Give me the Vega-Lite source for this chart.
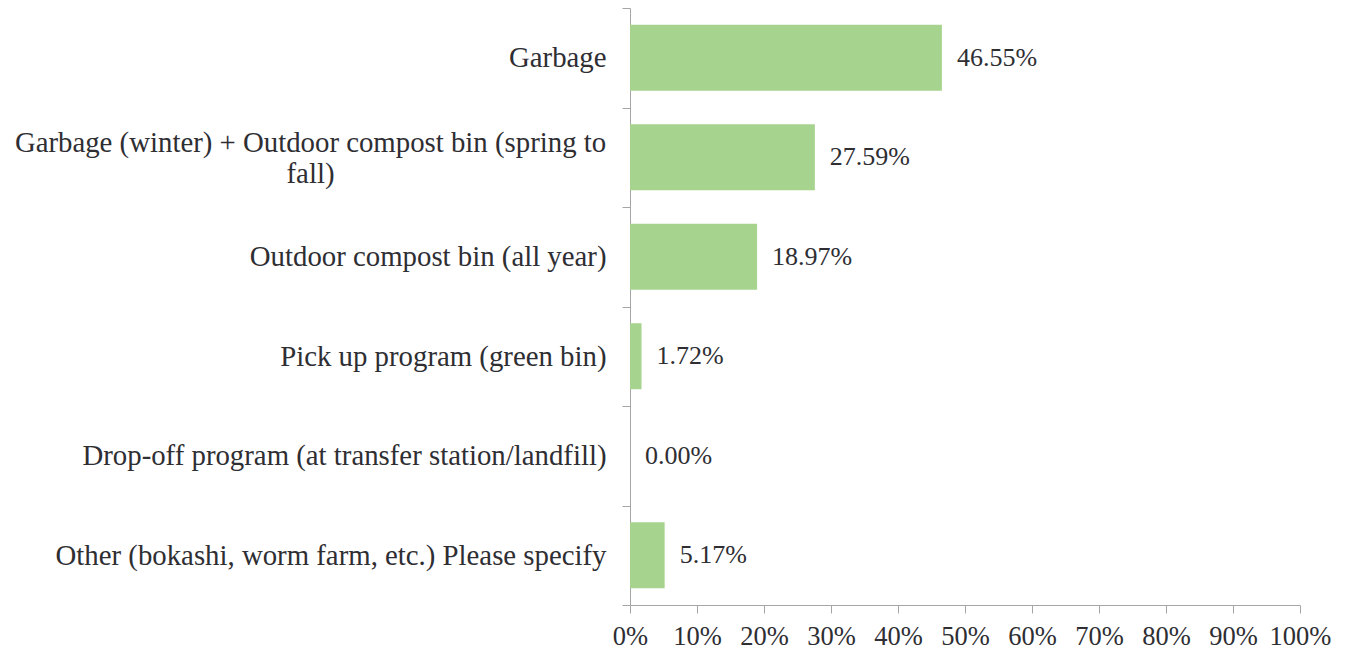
{
  "$schema": "https://vega.github.io/schema/vega-lite/v6.json",
  "width": 670,
  "height": 597,
  "autosize": {"type": "none"},
  "padding": {"left": 630, "top": 8, "right": 48, "bottom": 44},
  "background": "white",
  "config": {"view": {"stroke": null}, "font": "Times New Roman, Liberation Serif, DejaVu Serif, serif"},
  "data": {
    "values": [
      {"category": "Garbage", "value": 0.4655},
      {"category": ["Garbage (winter) + Outdoor compost bin (spring to", "fall)"], "value": 0.2759},
      {"category": "Outdoor compost bin (all year)", "value": 0.1897},
      {"category": "Pick up program (green bin)", "value": 0.0172},
      {"category": "Drop-off program (at transfer station/landfill)", "value": 0.0},
      {"category": "Other (bokashi, worm farm, etc.) Please specify", "value": 0.0517}
    ]
  },
  "encoding": {
    "y": {
      "field": "category",
      "type": "nominal",
      "sort": null,
      "scale": {"paddingInner": 0, "paddingOuter": 0},
      "axis": {
        "title": null,
        "tickBand": "extent",
        "tickSize": 8,
        "tickColor": "#a6a6a6",
        "domainColor": "#a6a6a6",
        "labelFont": "Times New Roman, Liberation Serif, DejaVu Serif, serif",
        "labelFontSize": 28.8,
        "labelColor": "#2e2e33",
        "labelLimit": 700,
        "labelLineHeight": 31,
        "labelAlign": {"condition": {"test": "indexof(''+datum.value, 'spring') >= 0", "value": "center"}, "value": "right"},
        "labelPadding": {"condition": {"test": "indexof(''+datum.value, 'spring') >= 0", "value": 312}, "value": 16},
        "labelOffset": {"condition": {"test": "indexof(''+datum.value, 'spring') >= 0", "value": -15}, "value": 0}
      }
    },
    "x": {
      "field": "value",
      "type": "quantitative",
      "scale": {"domain": [0, 1], "nice": false},
      "axis": {
        "title": null,
        "format": ".0%",
        "values": [0, 0.1, 0.2, 0.3, 0.4, 0.5, 0.6, 0.7, 0.8, 0.9, 1],
        "grid": false,
        "tickSize": 8,
        "tickColor": "#a6a6a6",
        "domainColor": "#a6a6a6",
        "labelFont": "Times New Roman, Liberation Serif, DejaVu Serif, serif",
        "labelFontSize": 26.5,
        "labelColor": "#2e2e33",
        "labelPadding": 10,
        "labelOverlap": false,
        "labelFlush": false
      }
    }
  },
  "layer": [
    {
      "mark": {"type": "bar", "color": "#a6d38d", "height": {"band": 0.663}}
    },
    {
      "mark": {"type": "text", "font": "Times New Roman, Liberation Serif, DejaVu Serif, serif", "align": "left", "baseline": "middle", "dx": 15, "fontSize": 26, "color": "#2e2e33"},
      "encoding": {"text": {"field": "value", "format": ".2%"}}
    }
  ]
}
